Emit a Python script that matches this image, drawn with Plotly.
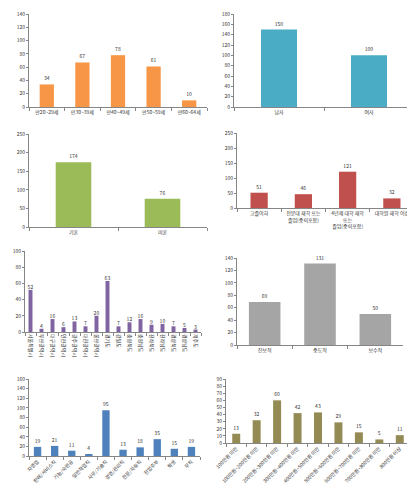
import plotly.graph_objects as go

W, H = 415, 490

age_cats = ["만20~29세", "만30~39세", "만40~49세", "만50~59세", "만60~64세"]
age_vals = [34, 67, 78, 61, 10]

sex_cats = ["남자", "여자"]
sex_vals = [150, 100]

mar_cats = ["기혼", "미혼"]
mar_vals = [174, 76]

edu_cats = ["고졸이하", "전문대 재학 또는<br>졸업(중퇴포함)", "4년제 대학 재학<br>또는<br>졸업(중퇴포함)", "대학원 재학 이상"]
edu_vals = [51, 46, 121, 32]

reg_cats = ["서울특별시", "부산광역시", "대구광역시", "인천광역시", "광주광역시", "대전광역시", "울산광역시",
            "경기도", "강원도", "충청북도", "충청남도", "전라북도", "전라남도", "경상북도", "경상남도", "제주도"]
reg_vals = [52, 4, 16, 6, 13, 7, 20, 63, 7, 12, 16, 9, 10, 7, 5, 3]

pol_cats = ["진보적", "중도적", "보수적"]
pol_vals = [69, 131, 50]

job_cats = ["자영업", "판매/서비스직", "기능/숙련공", "일반작업직", "사무/기술직", "경영/관리직", "전문/자유직", "전업주부", "학생", "무직"]
job_vals = [19, 21, 11, 4, 95, 13, 18, 35, 15, 19]

inc_cats = ["100만원 미만", "100만원~200만원 미만", "200만원~300만원 미만", "300만원~400만원 미만",
            "400만원~500만원 미만", "500만원~600만원 미만", "600만원~700만원 미만", "700만원~800만원 미만", "800만원 이상"]
inc_vals = [13, 32, 60, 42, 43, 29, 15, 5, 11]

# panel specs: cats, vals, color, ymax, dtick, x px range, y px (zero, top), bar width, tickangle
panels = [
    (age_cats, age_vals, "#F79646", 140, 20, (21, 199), (99, 6), 0.4, 0),
    (sex_cats, sex_vals, "#4BACC6", 180, 20, (226, 406), (99, 6), 0.4, 0),
    (mar_cats, mar_vals, "#9BBB59", 250, 50, (21, 199), (219, 126), 0.4, 0),
    (edu_cats, edu_vals, "#C0504D", 250, 50, (229, 406), (200, 125), 0.39, 0),
    (reg_cats, reg_vals, "#8064A2", 100, 20, (17, 193), (324, 243), 0.36, 90),
    (pol_cats, pol_vals, "#A5A5A5", 140, 20, (229, 395), (337, 250), 0.57, 0),
    (job_cats, job_vals, "#4F81BD", 160, 20, (21, 192), (448, 371), 0.43, -45),
    (inc_cats, inc_vals, "#948A54", 90, 10, (218, 402), (435, 371), 0.39, -45),
]

FONT = "Noto Sans CJK KR, Noto Sans, sans-serif"
FS = 5
fig = go.Figure()
layout = {}
for i, (cats, vals, col, ymax, dt, xr, yr, bw, ta) in enumerate(panels, start=1):
    sfx = "" if i == 1 else str(i)
    fig.add_trace(go.Bar(
        x=cats, y=vals, marker=dict(color=col, line=dict(width=0)),
        width=bw, text=[str(v) for v in vals], textposition="outside",
        textangle=0, constraintext="none",
        textfont=dict(size=FS, color="#333333", family=FONT), cliponaxis=False,
        xaxis="x" + sfx, yaxis="y" + sfx, showlegend=False, hoverinfo="skip"))
    layout["xaxis" + sfx] = dict(
        domain=[xr[0] / W, xr[1] / W], anchor="y" + sfx, type="category",
        showline=True, linecolor="#868686", linewidth=1, ticks="outside",
        tickson="boundaries", ticklen=3, tickcolor="#868686", showgrid=False,
        tickangle=ta, tickfont=dict(size=FS, color="#333333", family=FONT), automargin=False)
    layout["yaxis" + sfx] = dict(
        domain=[1 - yr[0] / H, 1 - yr[1] / H], anchor="x" + sfx, range=[0, ymax],
        dtick=dt, tick0=0, showline=True, linecolor="#868686", linewidth=1,
        ticks="outside", ticklen=2, tickcolor="#868686", showgrid=False, zeroline=False,
        tickfont=dict(size=FS, color="#333333", family=FONT), automargin=False)

fig.update_layout(width=W, height=H, margin=dict(l=0, r=0, t=0, b=0),
                  paper_bgcolor="white", plot_bgcolor="white", bargap=0.6,
                  uniformtext=dict(minsize=FS, mode="show"), **layout)
fig.write_html("out.html")
